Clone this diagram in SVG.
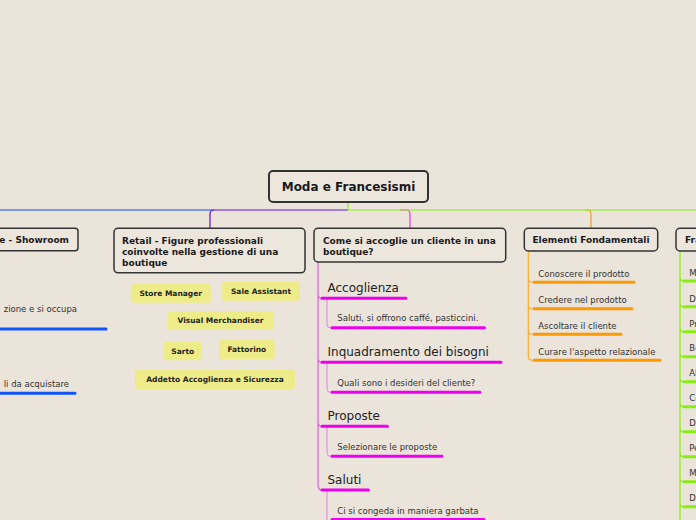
<svg xmlns="http://www.w3.org/2000/svg" width="696" height="520" viewBox="0 0 696 520">
<defs>
<style>
.bg{fill:#eae4db}
.box{fill:#ece6dd;stroke:#333;stroke-width:1.5}
.root{fill:#ece6dd;stroke:#333;stroke-width:2}
.yel{fill:#eeec88}
.h{font-family:"DejaVu Sans",Verdana,sans-serif;font-weight:bold;font-size:9px;fill:#1a1a1a}
.y{font-family:"DejaVu Sans",Verdana,sans-serif;font-weight:bold;font-size:7.5px;fill:#222;text-anchor:middle}
.t{font-family:"DejaVu Sans",Verdana,sans-serif;font-size:8.5px;fill:#333}
.big{font-family:"DejaVu Sans",Verdana,sans-serif;font-size:12px;fill:#222}
.thin{fill:none;stroke-width:1.2}
.ul{fill:none;stroke-width:3;stroke-linecap:round}
</style>
</defs>
<rect class="bg" x="0" y="0" width="696" height="520"/>
<g id="connectors">
<path class="thin" stroke="#0050ff" stroke-width="1.5" d="M214,210 H-10"/>
<path class="thin" stroke="#6010e0" stroke-width="1.5" d="M348,210 H214 Q210,210 210,214 V228"/>
<path class="thin" stroke="#ee33ee" stroke-width="1.5" d="M400,210 H406 Q410,210 410,214 V228"/>
<path class="thin" stroke="#ff9a10" stroke-width="1.5" d="M585,210 H587 Q591,210 591,214 V228"/>
<path class="thin" stroke="#88ee11" stroke-width="1.5" d="M348,202 V210 H700"/>
<!-- magenta -->
<path class="thin" stroke="#ee55ee" d="M318,262 V485 Q318,490 322,490 M318,294.3 Q318,298.3 322,298.3 M318,358.3 Q318,362.3 322,362.3 M318,422.3 Q318,426.3 322,426.3"/>
<path class="thin" stroke="#f088f0" d="M327,299.5 V323.7 Q327,327.7 331,327.7 M327,363.5 V388.3 Q327,392.3 331,392.3 M327,427.5 V452.3 Q327,456.3 331,456.3 M327,491.5 V520"/>
<path class="ul" stroke="#ee00ee" d="M322,298.3 H406 M332,327.7 H484.5 M322,362.3 H501 M332,392.3 H480 M322,426.3 H387.5 M332,456.3 H442 M322,490 H368.5 M332,519.5 H484"/>
<!-- orange -->
<path class="thin" stroke="#ffaa33" d="M528.3,251 V356.3 Q528.3,360.3 532.3,360.3 M528.3,278.3 Q528.3,282.3 532.3,282.3 M528.3,304.7 Q528.3,308.7 532.3,308.7 M528.3,330.3 Q528.3,334.3 532.3,334.3"/>
<path class="ul" stroke="#ff9900" d="M534,282.3 H634 M534,308.7 H632 M534,334.3 H621 M534,360.3 H660"/>
<!-- green -->
<path class="thin" stroke="#88ee11" stroke-width="2" d="M680,251 V520 M680,277 Q680,281 684,281 M680,302.7 Q680,306.7 684,306.7 M680,327.7 Q680,331.7 684,331.7 M680,352.7 Q680,356.7 684,356.7 M680,377.7 Q680,381.7 684,381.7 M680,402.7 Q680,406.7 684,406.7 M680,427.7 Q680,431.7 684,431.7 M680,452.7 Q680,456.7 684,456.7 M680,477.7 Q680,481.7 684,481.7 M680,502.7 Q680,506.7 684,506.7"/>
<path class="ul" stroke="#88ee11" d="M684,281 H700 M684,306.7 H700 M684,331.7 H700 M684,356.7 H700 M684,381.7 H700 M684,406.7 H700 M684,431.7 H700 M684,456.7 H700 M684,481.7 H700 M684,506.7 H700"/>
<!-- blue -->
<path class="ul" stroke="#1155ff" d="M-5,329 H106 M-5,393.3 H75"/>
</g>
<g id="root">
<rect class="root" x="269" y="171" width="159" height="31" rx="4"/>
<text class="h" style="font-size:12px" x="348.5" y="191" text-anchor="middle">Moda e Francesismi</text>
</g>
<g id="showroom">
<rect class="box" x="-10" y="228.3" width="88" height="22.5" rx="3"/>
<text class="h" x="69" y="243" text-anchor="end">e - Showroom</text>
<text class="t" x="77" y="312" text-anchor="end">zione e si occupa</text>
<text class="t" x="69" y="387" text-anchor="end">li da acquistare</text>
</g>
<g id="retail">
<rect class="box" x="114" y="228.3" width="191" height="44.5" rx="4"/>
<text class="h" x="122" y="243.5">Retail - Figure professionali</text>
<text class="h" x="122" y="254.5">coinvolte nella gestione di una</text>
<text class="h" x="122" y="265.5">boutique</text>
</g>
<g id="store-manager"><rect class="yel" x="130.7" y="284" width="80" height="18.7" rx="3"/><text class="y" x="170.7" y="296">Store Manager</text></g>
<g id="sale-assistant"><rect class="yel" x="222" y="282" width="78" height="18.7" rx="3"/><text class="y" x="261" y="294">Sale Assistant</text></g>
<g id="visual-merchandiser"><rect class="yel" x="167.7" y="311" width="105.6" height="19" rx="3"/><text class="y" x="220.5" y="323.2">Visual Merchandiser</text></g>
<g id="sarto"><rect class="yel" x="163.7" y="341.3" width="38.3" height="19" rx="3"/><text class="y" x="182.8" y="353.5">Sarto</text></g>
<g id="fattorino"><rect class="yel" x="219" y="339.7" width="55.7" height="19.3" rx="3"/><text class="y" x="246.8" y="352">Fattorino</text></g>
<g id="addetto"><rect class="yel" x="135" y="369.7" width="160" height="19.3" rx="3"/><text class="y" x="215" y="382">Addetto Accoglienza e Sicurezza</text></g>
<g id="accoglie">
<rect class="box" x="314" y="228.3" width="191.7" height="33.7" rx="4"/>
<text class="h" x="323" y="243.5">Come si accoglie un cliente in una</text>
<text class="h" x="323" y="254.5">boutique?</text>
</g>
<g id="accoglienza"><text class="big" x="327.5" y="292">Accoglienza</text></g>
<g id="saluti-offrono"><text class="t" x="337.3" y="321.3">Saluti, si offrono caffé, pasticcini.</text></g>
<g id="inquadramento"><text class="big" x="327.5" y="356">Inquadramento dei bisogni</text></g>
<g id="quali"><text class="t" x="337.3" y="386.3">Quali sono i desideri del cliente?</text></g>
<g id="proposte"><text class="big" x="327.5" y="420">Proposte</text></g>
<g id="selezionare"><text class="t" x="337.3" y="450.3">Selezionare le proposte</text></g>
<g id="saluti"><text class="big" x="327.5" y="484">Saluti</text></g>
<g id="congeda"><text class="t" x="337.3" y="514">Ci si congeda in maniera garbata</text></g>
<g id="elementi">
<rect class="box" x="524.3" y="228.3" width="133.4" height="22.7" rx="4"/>
<text class="h" x="591" y="243" text-anchor="middle">Elementi Fondamentali</text>
<text class="t" x="538.3" y="276.5">Conoscere il prodotto</text>
<text class="t" x="538.3" y="303">Credere nel prodotto</text>
<text class="t" x="538.3" y="328.7">Ascoltare il cliente</text>
<text class="t" x="538.3" y="354.8">Curare l'aspetto relazionale</text>
</g>
<g id="francesismi">
<rect class="box" x="676" y="228.3" width="40" height="22.7" rx="4"/>
<text class="h" x="685" y="243">Fra</text>
<text class="t" x="689.3" y="275.5">M</text>
<text class="t" x="689.3" y="301.5">D</text>
<text class="t" x="689.3" y="326.5">Pr</text>
<text class="t" x="689.3" y="351">Be</text>
<text class="t" x="689.3" y="376">Al</text>
<text class="t" x="689.3" y="401">Co</text>
<text class="t" x="689.3" y="426">D</text>
<text class="t" x="689.3" y="451">Pe</text>
<text class="t" x="689.3" y="476">M</text>
<text class="t" x="689.3" y="501">D</text>
</g>
</svg>
